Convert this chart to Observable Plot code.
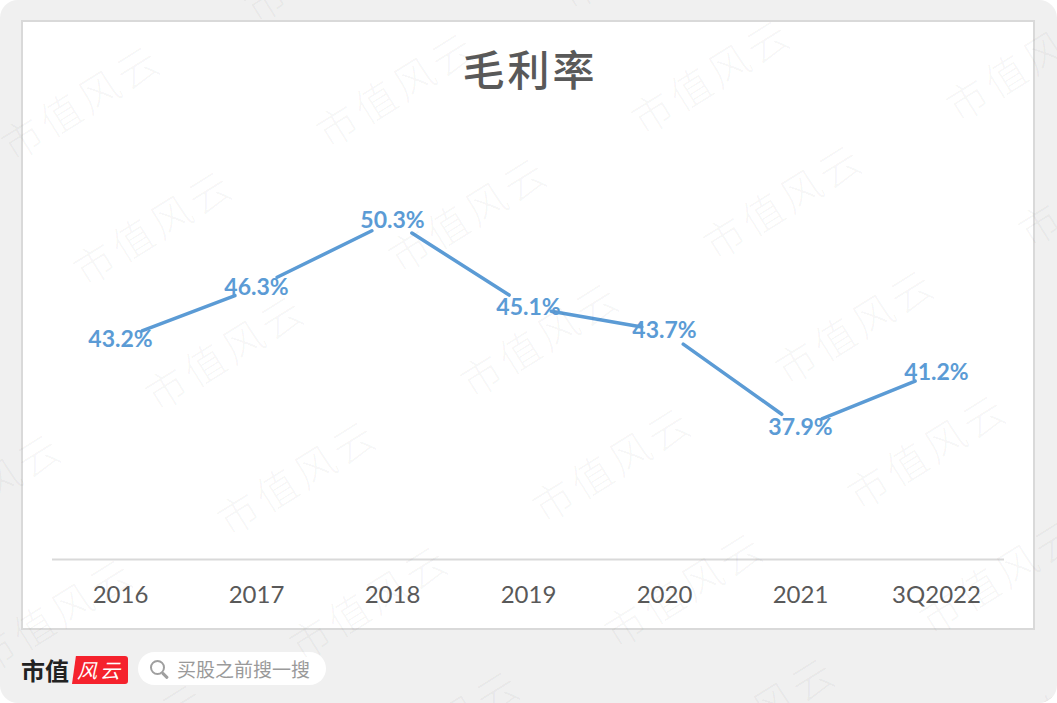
<!DOCTYPE html>
<html lang="zh">
<head>
<meta charset="utf-8">
<script src="https://cdn.jsdelivr.net/npm/d3@7"></script>
<script src="https://cdn.jsdelivr.net/npm/@observablehq/plot@0.6"></script>
<style>
html,body{margin:0;padding:0;background:#fff;}
#page{position:relative;width:1057px;height:703px;background:#f0f0f0;border-radius:18px;overflow:hidden;font-family:Lato,"Noto Sans CJK SC",sans-serif;}
#card{position:absolute;left:21px;top:20px;width:1010px;height:606px;background:#fff;border:2px solid #d9d9d9;}
#title{position:absolute;left:4px;right:0;top:18px;text-align:center;font:500 42px/56px "Noto Sans CJK SC",sans-serif;color:#595959;letter-spacing:3px;}
#chart{position:absolute;left:-24.5px;top:87.5px;width:1057px;}
#chart svg{max-width:none;}
#brand{position:absolute;left:21px;top:655px;font:700 24px/30px "Noto Sans CJK SC",serif;color:#222;}
#logo{position:absolute;left:72px;top:656px;width:56px;height:28px;background:#f5222d;color:#fff;font:italic 400 20px/28px "Noto Sans CJK SC",sans-serif;text-align:center;letter-spacing:3px;border-radius:3px 3px 3px 0;clip-path:polygon(7% 0,100% 0,100% 100%,0 100%);}
#search{position:absolute;left:138px;top:652px;width:188px;height:33px;background:#fff;border-radius:17px;color:#9a9a9a;font:400 19px/33px "Noto Sans CJK SC",sans-serif;}
#search span{position:absolute;left:39px;top:0;white-space:nowrap;}
#lens{position:absolute;left:12px;top:8px;width:11px;height:11px;border:2.5px solid #9f9f9f;border-radius:50%;box-sizing:content-box;}
#tail{position:absolute;left:23px;top:22px;width:8px;height:3px;background:#9f9f9f;transform:rotate(45deg);border-radius:1px;}
#marks{position:absolute;inset:0;pointer-events:none;overflow:hidden;}
#marks span{position:absolute;white-space:nowrap;font:300 41px/50px "Noto Sans CJK SC",sans-serif;letter-spacing:4px;color:rgba(0,0,0,.04);transform:translate(-50%,-50%) rotate(-32deg);}
</style>
</head>
<body>
<div id="page">
  <div id="card">
    <div id="title">毛利率</div>
    <div id="chart"></div>
  </div>
  <div id="brand">市值</div>
  <div id="logo">风云</div>
  <div id="search"><div id="lens"></div><div id="tail"></div><span>买股之前搜一搜</span></div>
  <div id="marks"></div>
</div>
<script>
const periods = ["2016", "2017", "2018", "2019", "2020", "2021", "3Q2022"];
const margins = [43.2, 46.3, 50.3, 45.1, 43.7, 37.9, 41.2];
const watermarkText = "市值风云";
const blue = "#5b9bd5";

const rows = periods.map((period, i) => ({period, margin: margins[i]}));
const segments = d3.pairs(rows).map(([a, b]) => ({a, b}));

const plot = Plot.plot({
  width: 1057,
  height: 510,
  marginLeft: 53,
  marginRight: 52,
  marginTop: 15,
  marginBottom: 61,
  x: {type: "point", domain: periods, padding: 0.5, label: null},
  y: {domain: [30, 56], axis: null},
  style: {background: "transparent", fontFamily: "Lato, 'Noto Sans CJK SC', sans-serif", overflow: "visible"},
  marks: [
    Plot.ruleY([30], {stroke: "#d9d9d9", strokeWidth: 2}),
    Plot.arrow(segments, {
      x1: d => d.a.period, y1: d => d.a.margin,
      x2: d => d.b.period, y2: d => d.b.margin,
      stroke: blue, strokeWidth: 3.5, headLength: 0, insetStart: 23, insetEnd: 23, bend: 0
    }),
    Plot.text(rows, {
      x: "period", y: "margin",
      text: d => d.margin.toFixed(1) + "%",
      fill: blue, fontSize: 23, fontWeight: 700
    }),
    Plot.axisX({anchor: "bottom", tickSize: 0, tickPadding: 26, fontSize: 24, color: "#595959", label: null})
  ]
});
document.getElementById("chart").appendChild(plot);

// Watermark lattice, as in the reference
const marks = document.getElementById("marks");
for (let r = -1; r < 7; r++) {
  for (let c = -2; c < 5; c++) {
    const x = 80 + 72 * r + 315 * c;
    const y = 100 + 125 * r - 13 * c;
    if (x < -120 || x > 1180 || y < -80 || y > 790) continue;
    const s = document.createElement("span");
    s.textContent = watermarkText;
    s.style.left = x + "px";
    s.style.top = y + "px";
    marks.appendChild(s);
  }
}
</script>
</body>
</html>
